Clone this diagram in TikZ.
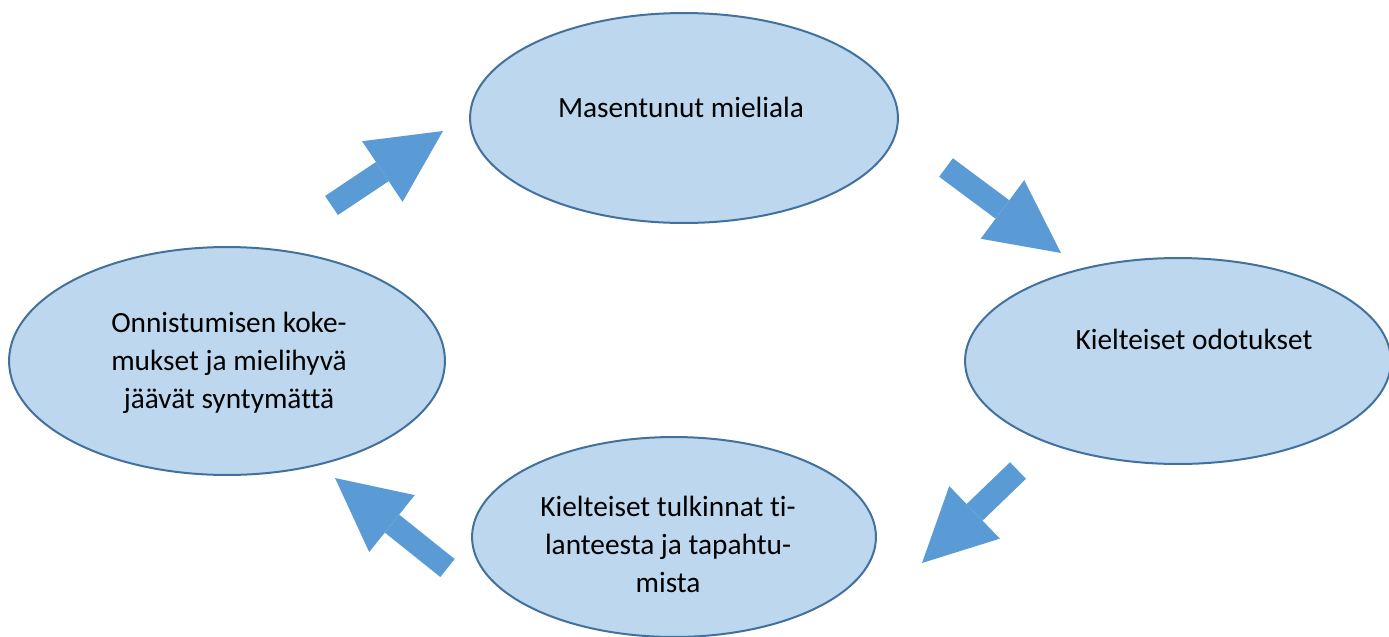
\documentclass[tikz,border=0pt]{standalone}
\usepackage{fontspec}
\setmainfont{Carlito}[Ligatures=NoCommon]
\usetikzlibrary{shapes.geometric, arrows.meta}

\definecolor{ellfill}{HTML}{BDD7EE}
\definecolor{ellline}{HTML}{41719C}
\definecolor{arrowblue}{HTML}{5B9BD5}

\tikzset{
  state/.style={ellipse, draw=ellline, fill=ellfill, line width=0.04cm, inner sep=0pt},
  lbl/.style={align=center, inner sep=0pt, font=\fontsize{16.7}{21.6}\selectfont},
  cyclearrow/.style={draw=arrowblue, line width=0.46cm,
    -{Triangle[width=1.46cm, length=1.46cm, line width=0pt]}}
}

\begin{document}
\begin{tikzpicture}[x=0.02cm, y=-0.02cm]
        \useasboundingbox (0,0) rectangle (1389,636);

        \node[state, minimum width=8.56cm, minimum height=4.2cm] (mood) at (684,118) {};
        \node[state, minimum width=8.52cm, minimum height=4.12cm] (expect) at (1178,361) {};
        \node[state, minimum width=8.08cm, minimum height=4.0cm] (interpret) at (674,537) {};
        \node[state, minimum width=8.72cm, minimum height=4.56cm] (success) at (227,361) {};

        \node[lbl] (mood_txt) at ([xshift=-0.06cm, yshift=0.21cm]mood.center) {Masentunut mieliala};
        \node[lbl] (expect_txt) at ([xshift=0.32cm, yshift=0.43cm]expect.center) {Kielteiset odotukset};
        \node[lbl] (interpret_txt) at ([xshift=-0.12cm, yshift=-0.15cm]interpret.center) {Kielteiset tulkinnat ti-\\lanteesta ja tapahtu-\\mista};
        \node[lbl] (success_txt) at ([xshift=0.04cm, yshift=-0.04cm]success.center) {Onnistumisen koke-\\mukset ja mielihyvä\\jäävät syntymättä};

        % arrow ends between the ellipses
        \coordinate (success_out) at (331.5,205.5);
        \coordinate (mood_in) at (443,131);
        \coordinate (mood_out) at (946,167.5);
        \coordinate (expect_in) at (1061,253);
        \coordinate (expect_out) at (1018,470.5);
        \coordinate (interpret_in) at (922,563);
        \coordinate (interpret_out) at (447.5,568);
        \coordinate (success_in) at (335,478);

        \draw[cyclearrow] (success_out) -- (mood_in);
        \draw[cyclearrow] (mood_out) -- (expect_in);
        \draw[cyclearrow] (expect_out) -- (interpret_in);
        \draw[cyclearrow] (interpret_out) -- (success_in);
    \end{tikzpicture}
\end{document}
